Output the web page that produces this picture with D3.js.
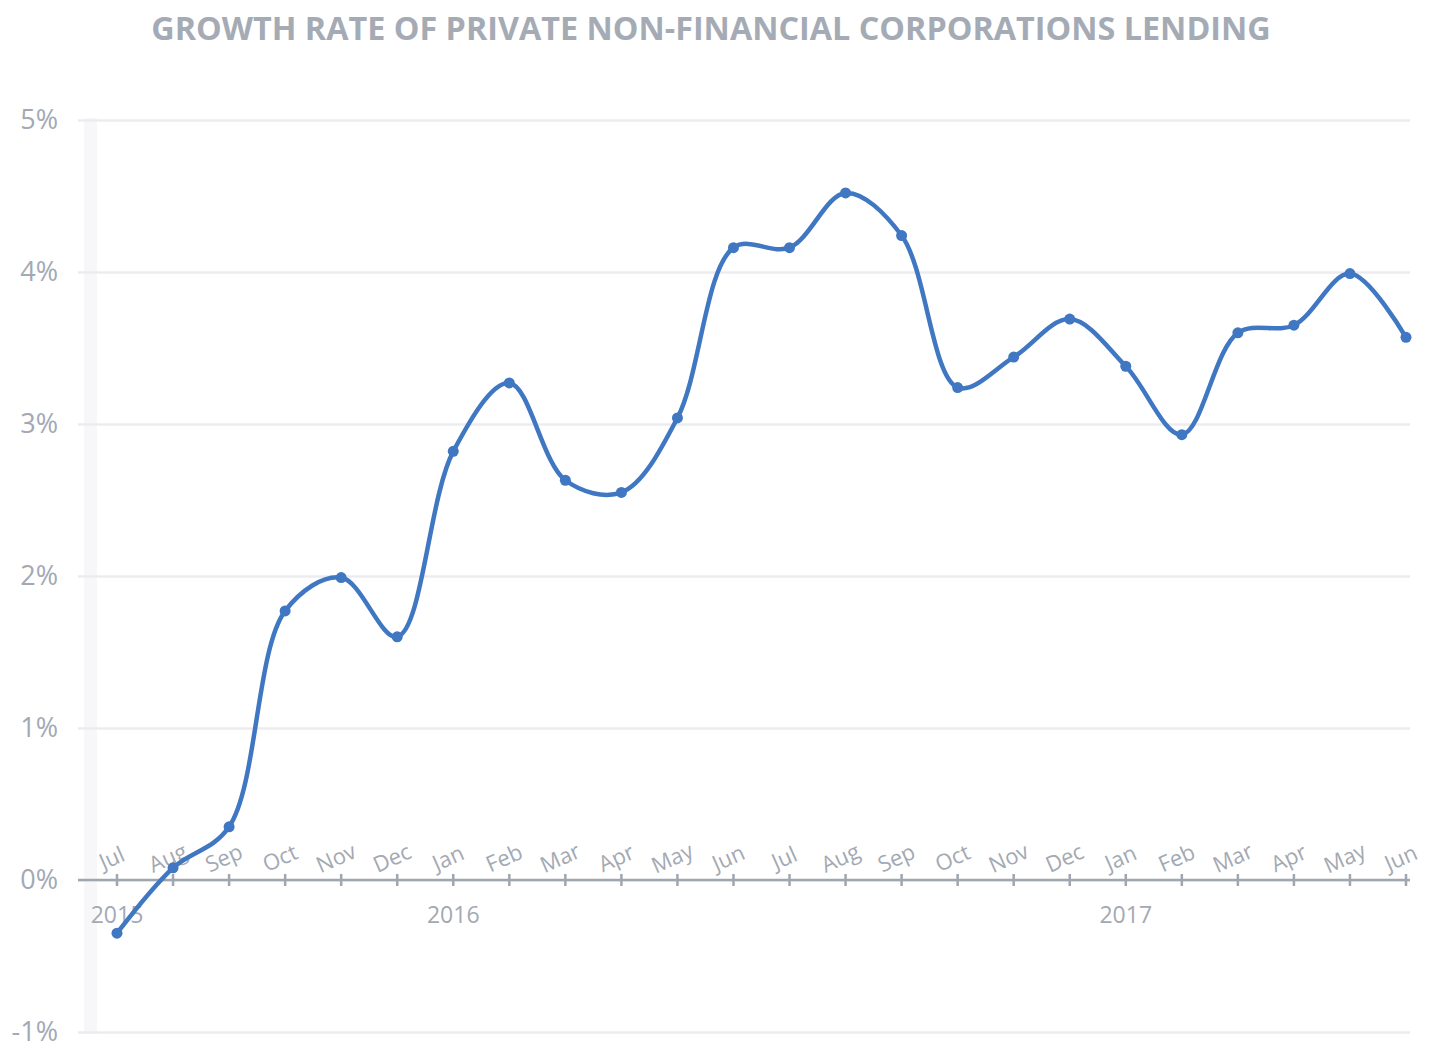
<!DOCTYPE html>
<html lang="en">
<head>
    <meta charset="UTF-8" />
    <title>Growth rate of private non-financial corporations lending</title>
    <script src="https://d3js.org/d3.v7.min.js"></script>
    <style>
        body { margin: 0; background: #fff; }
    </style>
</head>
<body>
    <div id="chart"></div>
    <script>
        // data
        const months = ["Jul", "Aug", "Sep", "Oct", "Nov", "Dec",
            "Jan", "Feb", "Mar", "Apr", "May", "Jun", "Jul", "Aug", "Sep", "Oct", "Nov", "Dec",
            "Jan", "Feb", "Mar", "Apr", "May", "Jun"]
        const years = [{ name: "2015", at: 0 }, { name: "2016", at: 6 }, { name: "2017", at: 18 }]
        const growth = [-0.35, 0.08, 0.35, 1.77, 1.99, 1.60,
            2.82, 3.27, 2.63, 2.55, 3.04, 4.16, 4.16, 4.52, 4.24, 3.24, 3.44, 3.69,
            3.38, 2.93, 3.60, 3.65, 3.99, 3.57]
        const yTicks = [-1, 0, 1, 2, 3, 4, 5]

        const width = 1435
        const height = 1048
        const margin = ({ top: 120, right: 25, bottom: 16, left: 78 })

        const gray = "#a3a9b3"
        const blue = "#4077c2"
        const font = "'Open Sans', sans-serif"

        const x = d3.scalePoint()
            .domain(d3.range(months.length))
            .range([117, 1406])

        const y = d3.scaleLinear()
            .domain([-1, 5])
            .range([height - margin.bottom, margin.top])

        const svg = d3.select("#chart").append("svg")
            .attr("width", width)
            .attr("height", height)
            .attr("font-family", font)

        // faint band at the left of the plot
        svg.append("rect")
            .attr("x", 84)
            .attr("y", y(5) - 2)
            .attr("width", 13)
            .attr("height", y(-1) - y(5) + 4)
            .attr("fill", "#f7f7f9")

        // gridlines + y labels
        const yAxis = g => g
            .attr("transform", `translate(${margin.left},0)`)
            .call(d3.axisLeft(y).tickValues(yTicks)
                .tickSize(-(width - margin.right - margin.left))
                .tickPadding(20)
                .tickFormat(d => d + "%"))
            .attr("font-family", font)
            .call(g => g.select(".domain").remove())
            .call(g => g.selectAll(".tick line")
                .attr("stroke", "#ececf0")
                .attr("stroke-width", 2.5))
            .call(g => g.selectAll(".tick text")
                .attr("fill", gray)
                .attr("font-size", 27)
                .attr("dy", "0.3em"))

        svg.append("g").call(yAxis)

        // category axis at 0%
        const xAxis = g => g
            .attr("transform", `translate(0,${y(0)})`)
            .call(g => g.append("line")
                .attr("x1", margin.left)
                .attr("x2", width - margin.right)
                .attr("stroke", "#a0a6b0")
                .attr("stroke-width", 2.5))
            .call(g => g.selectAll(".tk")
                .data(months)
                .join("line")
                .attr("class", "tk")
                .attr("x1", (d, i) => x(i))
                .attr("x2", (d, i) => x(i))
                .attr("y1", -6)
                .attr("y2", 6)
                .attr("stroke", "#a0a6b0")
                .attr("stroke-width", 2.5))
            .call(g => g.selectAll(".mon")
                .data(months)
                .join("text")
                .attr("class", "mon")
                .attr("transform", (d, i) => `translate(${x(i) - 2},-15) rotate(-24)`)
                .attr("text-anchor", "middle")
                .attr("fill", gray)
                .attr("font-size", 22)
                .text(d => d))
            .call(g => g.selectAll(".yr")
                .data(years)
                .join("text")
                .attr("class", "yr")
                .attr("x", d => x(d.at))
                .attr("y", 43)
                .attr("text-anchor", "middle")
                .attr("fill", gray)
                .attr("font-size", 23)
                .text(d => d.name))

        svg.append("g").call(xAxis)

        const line = d3.line()
            .x((d, i) => x(i))
            .y(d => y(d))
            .curve(d3.curveCatmullRom.alpha(0.5))

        svg.append("path")
            .datum(growth)
            .attr("fill", "none")
            .attr("stroke", blue)
            .attr("stroke-width", 4.5)
            .attr("stroke-linejoin", "round")
            .attr("d", line)

        svg.append("g")
            .selectAll("circle")
            .data(growth)
            .join("circle")
            .attr("cx", (d, i) => x(i))
            .attr("cy", d => y(d))
            .attr("r", 5.5)
            .attr("fill", blue)

        const title = svg.append("text")
            .attr("x", 711)
            .attr("y", 40)
            .attr("text-anchor", "middle")
            .attr("fill", "#a5abb5")
            .attr("font-weight", "bold")
            .attr("font-size", 34)
            .text("GROWTH RATE OF PRIVATE NON-FINANCIAL CORPORATIONS LENDING")

        // fit the title to the width it has in the reference
        const w = title.node().getComputedTextLength()
        title.attr("font-size", 34 * 1120 / w)
    </script>
</body>
</html>
